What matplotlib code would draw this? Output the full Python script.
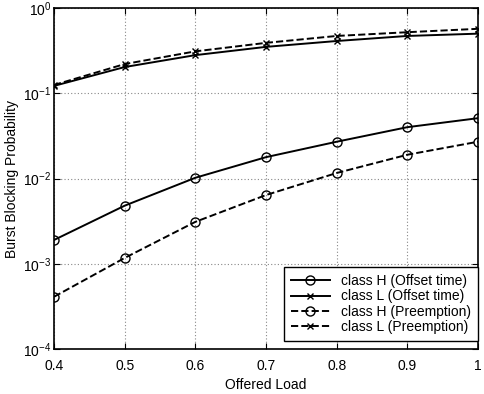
import numpy as np
import matplotlib.pyplot as plt

plt.rcParams['font.family'] = ['Liberation Sans', 'DejaVu Sans']
plt.rcParams['mathtext.default'] = 'regular'

load = [0.4, 0.5, 0.6, 0.7, 0.8, 0.9, 1.0]

h_offset = [1.9e-3, 4.8e-3, 1.02e-2, 1.78e-2, 2.7e-2, 4.0e-2, 5.1e-2]
l_offset = [0.122, 0.203, 0.28, 0.35, 0.41, 0.47, 0.50]
h_preempt = [4.1e-4, 1.17e-3, 3.1e-3, 6.4e-3, 1.16e-2, 1.9e-2, 2.7e-2]
l_preempt = [0.125, 0.22, 0.31, 0.39, 0.47, 0.52, 0.57]

fig = plt.figure(figsize=(4.84, 3.94), dpi=100)
ax = fig.add_axes([0.1116, 0.1142, 0.876, 0.8655])

ax.plot(load, h_offset, '-', color='black', lw=1.4, marker='o', ms=6.5,
        mfc='none', mew=1.0, label='class H (Offset time)')
ax.plot(load, l_offset, '-', color='black', lw=1.4, marker='x', ms=4,
        mew=1.0, label='class L (Offset time)')
ax.plot(load, h_preempt, '--', color='black', lw=1.4, marker='o', ms=6.5,
        mfc='none', mew=1.0, label='class H (Preemption)')
ax.plot(load, l_preempt, '--', color='black', lw=1.4, marker='x', ms=4,
        mew=1.0, label='class L (Preemption)')

ax.set_yscale('log')
ax.set_xlim(0.4, 1.0)
ax.set_ylim(1e-4, 1)
ax.set_xticks([0.4, 0.5, 0.6, 0.7, 0.8, 0.9, 1.0])
ax.set_xticklabels(['0.4', '0.5', '0.6', '0.7', '0.8', '0.9', '1'])
ax.set_yticks([1e-4, 1e-3, 1e-2, 1e-1, 1])
ax.set_yticklabels([r'10$^{-4}$', r'10$^{-3}$', r'10$^{-2}$', r'10$^{-1}$', r'10$^{0}$'])
ax.minorticks_off()
ax.tick_params(direction='in', length=4, labelsize=10, top=True, right=True)
ax.tick_params(axis='x', pad=7)
ax.tick_params(axis='y', pad=2)
ax.grid(True, which='major', linestyle=(0, (1, 2)), color='#888888', lw=0.8)
for s in ax.spines.values():
    s.set_linewidth(1.2)

ax.set_xlabel('Offered Load', fontsize=10)
ax.set_ylabel('Burst Blocking Probability', fontsize=10)
ax.xaxis.set_label_coords(0.5, -0.085)
ax.yaxis.set_label_coords(-0.082, 0.5)

leg = ax.legend(loc='lower right', bbox_to_anchor=(1.0, 0.023), borderaxespad=0,
                fancybox=False, edgecolor='black', framealpha=1, fontsize=10,
                handlelength=2.8, labelspacing=0.1, borderpad=0.5)
leg.get_frame().set_linewidth(1.0)

fig.savefig('out.png', dpi=100)
